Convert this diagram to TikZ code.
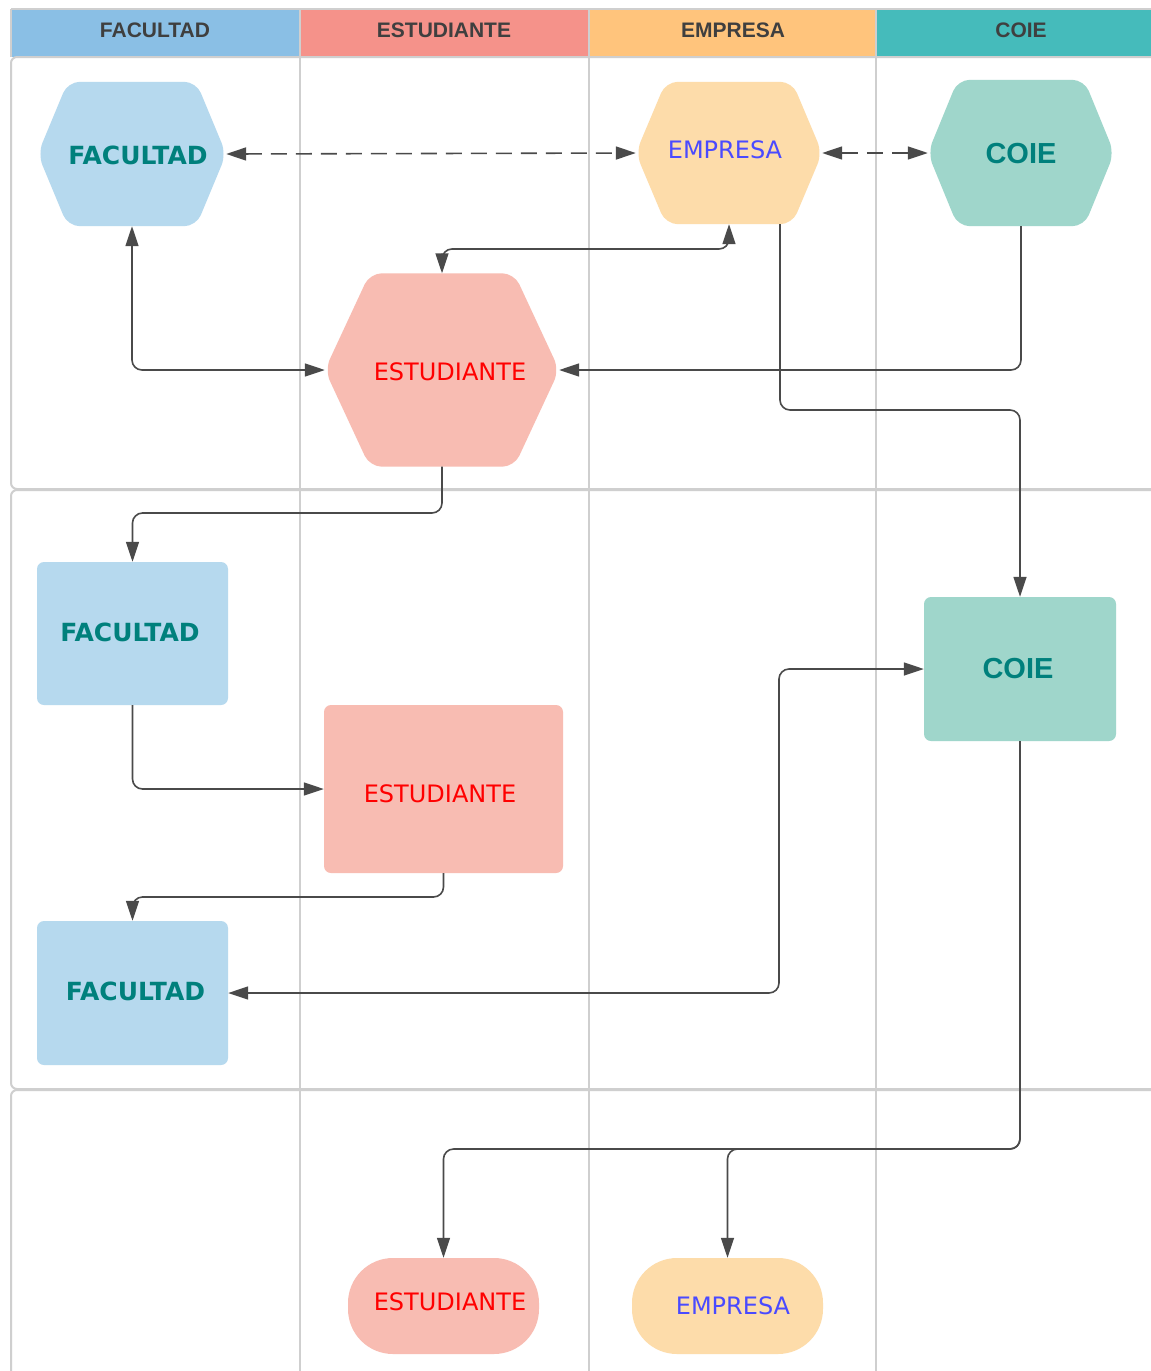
\documentclass[tikz,border=0pt]{standalone}
\usepackage{fontspec}
\usetikzlibrary{arrows.meta,calc}
\newfontfamily\dvs{DejaVu Sans}
\newfontfamily\libs{Liberation Sans}
\definecolor{hdrFac}{HTML}{8ABFE5}
\definecolor{hdrEst}{HTML}{F5928A}
\definecolor{hdrEmp}{HTML}{FFC47C}
\definecolor{hdrCoi}{HTML}{45BBBB}
\definecolor{fillFac}{HTML}{B6D9EE}
\definecolor{fillEst}{HTML}{F8BCB2}
\definecolor{fillEmp}{HTML}{FDDCAA}
\definecolor{fillCoi}{HTML}{9FD6CB}
\definecolor{tealtxt}{HTML}{00807C}
\definecolor{redtxt}{HTML}{FF0000}
\definecolor{bluetxt}{HTML}{4A4AFF}
\definecolor{hdrtxt}{HTML}{3F3F3F}
\definecolor{lanec}{HTML}{CFCFCF}
\definecolor{linec}{HTML}{4A4A4A}
\pgfdeclarelayer{lanes}
\pgfdeclarelayer{shapes}
\pgfsetlayers{lanes,shapes,main}
\newcommand{\hexbg}[3]{%
  \begin{pgfonlayer}{shapes}
  \fill[#3, rounded corners=12pt] ($(#1.north west)+(#2,0)$) -- ($(#1.north east)+(-#2,0)$) -- (#1.east) -- ($(#1.south east)+(-#2,0)$) -- ($(#1.south west)+(#2,0)$) -- (#1.west) -- cycle;
  \end{pgfonlayer}}
\tikzset{
  arr/.tip={Triangle[length=20pt,width=13pt]},
  lane/.style={draw=lanec, line width=2pt},
  hdrlabel/.style={font=\libs\bfseries\fontsize{21}{24}\selectfont, text=hdrtxt},
  boldlbl/.style={font=\dvs\bfseries\fontsize{25}{29}\selectfont, text=tealtxt},
  coilbl/.style={font=\libs\bfseries\fontsize{29}{34}\selectfont, text=tealtxt},
  redlbl/.style={font=\dvs\fontsize{24}{28}\selectfont, text=redtxt},
  bluelbl/.style={font=\dvs\fontsize{24}{28}\selectfont, text=bluetxt},
  hexbox/.style={inner sep=0pt},
  rectbox/.style={inner sep=0pt, rounded corners=7pt},
  pillbox/.style={inner sep=0pt, rounded corners=45pt},
  conn/.style={draw=linec, line width=1.6pt, rounded corners=10pt},
  dconn/.style={draw=linec, line width=1.6pt, dash pattern=on 16pt off 9pt},
}
\begin{document}
\begin{tikzpicture}[x=1pt,y=-1pt]
\useasboundingbox (0,0) rectangle (1151,1371);
% ---------- lanes ----------
\begin{pgfonlayer}{lanes}
\fill[white] (0,0) rectangle (1151,1371);
\fill[hdrFac] (11,10) rectangle (299,57);
\fill[hdrEst] (300,10) rectangle (588,57);
\fill[hdrEmp] (589,10) rectangle (875,57);
\fill[hdrCoi] (876,10) rectangle (1160,57);
\draw[lane] (11,9) -- (1160,9);
\draw[lane, rounded corners=6pt] (11,57) rectangle (1175,489);
\draw[lane, rounded corners=6pt] (11,490) rectangle (1175,1089);
\draw[lane, rounded corners=6pt] (11,1090) rectangle (1175,1400);
\draw[lane] (11,9) -- (11,57);
\draw[lane] (300,9) -- (300,1371);
\draw[lane] (589,9) -- (589,1371);
\draw[lane] (876,9) -- (876,1371);
\end{pgfonlayer}
\node[hdrlabel] (h1) at (155,30) {FACULTAD};
\node[hdrlabel] (h2) at (444,30) {ESTUDIANTE};
\node[hdrlabel] (h3) at (733,30) {EMPRESA};
\node[hdrlabel] (h4) at (1021,30) {COIE};
% ---------- hexagons ----------
\node[hexbox, minimum width=188pt, minimum height=144pt] (facH) at (132,154) {};
\node[boldlbl] (facHt) at (138,155) {FACULTAD};
\hexbg{facH}{30}{fillFac}
\node[hexbox, minimum width=186pt, minimum height=142pt] (empH) at (729,153) {};
\node[bluelbl] (empHt) at (725,150) {EMPRESA};
\hexbg{empH}{30}{fillEmp}
\node[hexbox, minimum width=186pt, minimum height=146pt] (coiH) at (1021,153) {};
\node[coilbl] (coiHt) at (1021,154) {COIE};
\hexbg{coiH}{30}{fillCoi}
\node[hexbox, minimum width=234pt, minimum height=193pt] (estH) at (442,370) {};
\node[redlbl] (estHt) at (450,372) {ESTUDIANTE};
\hexbg{estH}{45}{fillEst}
% ---------- rectangles ----------
\node[rectbox, fill=fillFac, minimum width=191pt, minimum height=143pt] (fac2) at (132.5,633.5) {};
\node[boldlbl] (fac2t) at (130,632) {FACULTAD};
\node[rectbox, fill=fillCoi, minimum width=192pt, minimum height=144pt] (coi2) at (1020,669) {};
\node[coilbl] (coi2t) at (1018,669) {COIE};
\node[rectbox, fill=fillEst, minimum width=239pt, minimum height=168pt] (est2) at (443.5,789) {};
\node[redlbl] (est2t) at (440,794) {ESTUDIANTE};
\node[rectbox, fill=fillFac, minimum width=191pt, minimum height=144pt] (fac3) at (132.5,993) {};
\node[boldlbl] (fac3t) at (135.5,991) {FACULTAD};
% ---------- pills ----------
\node[pillbox, fill=fillEst, minimum width=191pt, minimum height=96pt] (est3) at (443.5,1306) {};
\node[redlbl] (est3t) at (450,1302) {ESTUDIANTE};
\node[pillbox, fill=fillEmp, minimum width=191pt, minimum height=96pt] (emp3) at (727.5,1306) {};
\node[bluelbl] (emp3t) at (733,1306) {EMPRESA};
% ---------- connectors ----------
\draw[dconn, arr-arr] (facH.east) -- (empH.west);
\draw[dconn, arr-arr] (empH.east) -- (coiH.west);
\draw[conn, arr-arr] (facH.south) |- (estH.west);
\draw[conn, arr-arr] (estH.north) -- (estH.north |- 0,249) -- (empH.south |- 0,249) -- (empH.south);
\draw[conn, -arr] (coiH.south) |- (estH.east);
\coordinate (e1) at ([xshift=51pt]empH.south);
\draw[conn, -arr] (e1) -- (e1 |- 0,410) -- (coi2.north |- 0,410) -- (coi2.north);
\draw[conn, -arr] (estH.south) -- (estH.south |- 0,513) -- (fac2.north |- 0,513) -- (fac2.north);
\draw[conn, -arr] (fac2.south) |- (est2.west);
\draw[conn, -arr] (est2.south) -- (est2.south |- 0,897) -- (fac3.north |- 0,897) -- (fac3.north);
\draw[conn, arr-arr] (coi2.west) -- (coi2.west -| 779,0) -- (fac3.east -| 779,0) -- (fac3.east);
\draw[conn, -arr] (coi2.south) -- (coi2.south |- 0,1149) -- (est3.north |- 0,1149) -- (est3.north);
\draw[conn, -arr] (coi2.south) -- (coi2.south |- 0,1149) -- (emp3.north |- 0,1149) -- (emp3.north);
\end{tikzpicture}
\end{document}
